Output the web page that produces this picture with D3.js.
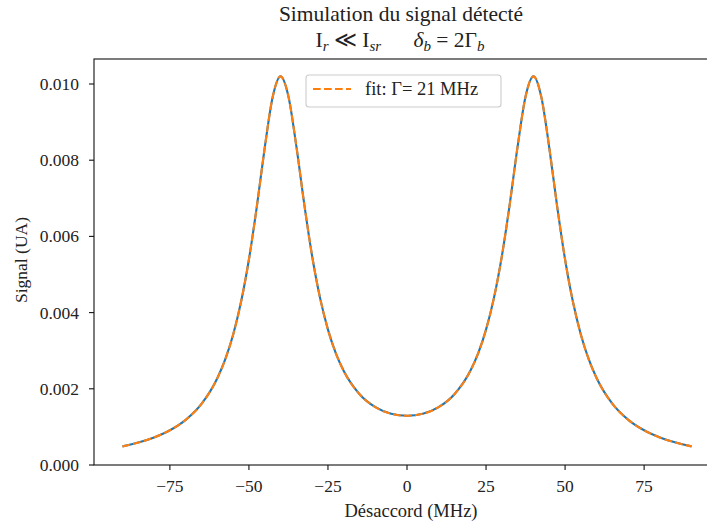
<!DOCTYPE html>
<html><head><meta charset="utf-8">
<script src="https://cdn.jsdelivr.net/npm/d3@7"></script>
<style>
body{margin:0;background:#fff;}
text{font-family:"Liberation Serif","DejaVu Serif",serif;fill:#222;}
</style></head>
<body>
<svg id="c" width="707" height="522"></svg>
<script>
const detuning = [-90,-85,-80,-75,-70,-65,-60,-57.5,-55,-52.5,-50,-47.5,-45,-42.5,-40,-37.5,-35,-32.5,-30,-27.5,-25,-22.5,-20,-15,-10,-5,0,5,10,15,20,22.5,25,27.5,30,32.5,35,37.5,40,42.5,45,47.5,50,52.5,55,57.5,60,65,70,75,80,85,90];
const signal = [0.000489,0.000588,0.000723,0.000911,0.001185,0.001603,0.002277,0.00277,0.00342,0.004277,0.005394,0.006784,0.008327,0.009652,0.0102,0.009673,0.008369,0.006847,0.00548,0.004386,0.003554,0.00293,0.002465,0.001857,0.001518,0.001346,0.001293,0.001346,0.001518,0.001857,0.002465,0.00293,0.003554,0.004386,0.00548,0.006847,0.008369,0.009673,0.0102,0.009652,0.008327,0.006784,0.005394,0.004277,0.00342,0.00277,0.002277,0.001603,0.001185,0.000911,0.000723,0.000588,0.000489];
const fitSignal = signal.slice();
const xTicks = [-75,-50,-25,0,25,50,75];
const yTicks = [0,0.002,0.004,0.006,0.008,0.010];

const svg = d3.select("#c");
const L=94, R=720, T=59, B=465;
const x = d3.scaleLinear().domain([-99,99]).range([L,R]);
const y = d3.scaleLinear().domain([0,0.010656]).range([B,T]);

const line = d3.line().x(d=>x(d[0])).y(d=>y(d[1])).curve(d3.curveMonotoneX);
const data = detuning.map((d,i)=>[d,signal[i]]);
const fitData = detuning.map((d,i)=>[d,fitSignal[i]]);

svg.append("path").datum(data).attr("d",line).attr("fill","none").attr("stroke","#1f77b4").attr("stroke-width",2.1);
svg.append("path").datum(fitData).attr("d",line).attr("fill","none").attr("stroke","#ff7f0e").attr("stroke-width",2.1).attr("stroke-dasharray","7.7,3.3");

// spines
svg.append("rect").attr("x",L).attr("y",T).attr("width",R-L).attr("height",B-T).attr("fill","none").attr("stroke","#111").attr("stroke-width",1.1);

// x axis
const gx = svg.append("g");
xTicks.forEach(t=>{
  gx.append("line").attr("x1",x(t)).attr("x2",x(t)).attr("y1",B).attr("y2",B+5).attr("stroke","#111").attr("stroke-width",1.1);
  gx.append("text").attr("x",x(t)).attr("y",B+27).attr("text-anchor","middle").attr("font-size",17.5)
    .text(t<0? "\u2212"+Math.abs(t) : String(t));
});
const gy = svg.append("g");
yTicks.forEach(t=>{
  gy.append("line").attr("x1",L-5).attr("x2",L).attr("y1",y(t)).attr("y2",y(t)).attr("stroke","#111").attr("stroke-width",1.1);
  gy.append("text").attr("x",L-15).attr("y",y(t)+6).attr("text-anchor","end").attr("font-size",17.5).text(t.toFixed(3));
});

svg.append("text").attr("x",411).attr("y",517).attr("text-anchor","middle").attr("font-size",18.5).text("Désaccord (MHz)");
svg.append("text").attr("transform","translate(27,260) rotate(-90)").attr("text-anchor","middle").attr("font-size",17.5).text("Signal (UA)");

// title
svg.append("text").attr("x",401).attr("y",21).attr("text-anchor","middle").attr("font-size",21.5).text("Simulation du signal détecté");
const t2 = svg.append("text").attr("x",400).attr("y",47).attr("text-anchor","middle").attr("font-size",21.5);
t2.append("tspan").text("I");
t2.append("tspan").attr("font-style","italic").attr("font-size",15).attr("dy",4).text("r");
t2.append("tspan").attr("dy",-4).text(" \u226A I");
t2.append("tspan").attr("font-style","italic").attr("font-size",15).attr("dy",4).text("sr");
t2.append("tspan").attr("dy",-4).text("\u2003\u2002");
t2.append("tspan").attr("font-style","italic").text("δ");
t2.append("tspan").attr("font-style","italic").attr("font-size",15).attr("dy",4).text("b");
t2.append("tspan").attr("dy",-4).text(" = 2Γ");
t2.append("tspan").attr("font-style","italic").attr("font-size",15).attr("dy",4).text("b");

// legend
const lg = svg.append("g");
lg.append("rect").attr("x",306).attr("y",75).attr("width",195).attr("height",32).attr("rx",3).attr("fill","#fff").attr("fill-opacity",0.8).attr("stroke","#ccc").attr("stroke-width",1.1);
lg.append("line").attr("x1",313).attr("x2",351).attr("y1",89).attr("y2",89).attr("stroke","#ff7f0e").attr("stroke-width",2.1).attr("stroke-dasharray","7.7,3.3");
lg.append("text").attr("x",365).attr("y",95).attr("font-size",18.5).text("fit: Γ= 21 MHz");
</script>
</body></html>
